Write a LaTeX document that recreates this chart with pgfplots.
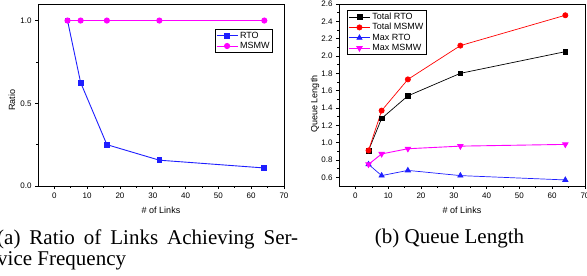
\documentclass[border=0pt]{standalone}
\usepackage{fontspec}
\setmainfont{Liberation Serif}
\newfontfamily\arial{Liberation Sans}
\usepackage{pgfplots}
\pgfplotsset{compat=1.18}
\definecolor{mag}{RGB}{255,0,255}
\definecolor{blu}{RGB}{30,30,255}
\begin{document}
\begin{tikzpicture}
\path[use as bounding box] (0pt,0pt) rectangle (587pt,-276pt);
\pgfplotsset{
  every axis/.append style={
    scale only axis,
    axis line style={line width=0.8pt},
    every tick/.style={black, line width=0.6pt},
    major tick length=3pt, minor tick length=1.8pt,
    xtick pos=bottom, ytick pos=left,
    tick align=outside,
    /pgf/number format/assume math mode=true,
    tick label style={font=\arial\fontsize{8}{9}\selectfont},
    legend style={font=\arial\fontsize{9}{10}\selectfont, draw=black, line width=0.8pt,
      inner xsep=1pt, inner ysep=0.5pt, row sep=-1.5pt},
    legend cell align=left,
    legend image code/.code={\draw[mark repeat=2,mark phase=2] plot coordinates {(0pt,0pt)(10.5pt,0pt)(21pt,0pt)};},
    mark size=2.6pt,
  }
}
% ---------- left ----------
\begin{axis}[
  at={(38pt,-4pt)}, anchor=north west, width=246pt, height=182pt,
  xmin=-5, xmax=70, ymin=0, ymax=1.1,
  xtick={0,10,...,70}, minor x tick num=1,
  ytick={0,0.5,1}, minor y tick num=1,
  yticklabel style={/pgf/number format/.cd, fixed, fixed zerofill, precision=1},
  legend style={at={(0.955,0.863)}, anchor=north east},
]
\addplot[blu, line width=0.9pt, mark=square*, mark size=2.4pt, mark options={solid}] coordinates {(4,1.0) (8,0.625) (16,0.25) (32,0.156) (64,0.109)};
\addlegendentry{RTO}
\addplot[mag, line width=0.9pt, mark=*, mark size=2.6pt] coordinates {(4,1) (8,1) (16,1) (32,1) (64,1)};
\addlegendentry{MSMW}
\end{axis}
% ---------- right ----------
\begin{axis}[
  at={(339pt,-4pt)}, anchor=north west, width=246pt, height=182pt,
  xmin=-5, xmax=70, ymin=0.5, ymax=2.6,
  xtick={0,10,...,70}, minor x tick num=1,
  ytick={0.6,0.8,...,2.61}, minor y tick num=1,
  yticklabel style={/pgf/number format/.cd, fixed, fixed zerofill, precision=1},
  legend style={at={(0.033,0.967)}, anchor=north west},
]
\addplot[black, line width=0.7pt, mark=square*, mark size=2.4pt] coordinates {(4,0.91) (8,1.28) (16,1.54) (32,1.80) (64,2.05)};
\addlegendentry{Total RTO}
\addplot[red, line width=0.7pt, mark=*, mark size=2.6pt] coordinates {(4,0.91) (8,1.37) (16,1.73) (32,2.12) (64,2.47)};
\addlegendentry{Total MSMW}
\addplot[blu, line width=0.7pt, mark=triangle*, mark size=3pt] coordinates {(4,0.75) (8,0.62) (16,0.68) (32,0.62) (64,0.57)};
\addlegendentry{Max RTO}
\addplot[mag, line width=0.9pt, mark=triangle*, mark size=3pt, mark options={rotate=180}] coordinates {(4,0.75) (8,0.87) (16,0.93) (32,0.96) (64,0.98)};
\addlegendentry{Max MSMW}
\end{axis}
% ---------- labels ----------
\node[rotate=90, font=\arial\fontsize{9}{10}\selectfont] at (12pt,-100pt) {Ratio};
\node[rotate=90, font=\arial\fontsize{9}{10}\selectfont] at (315pt,-104pt) {Queue Length};
\node[font=\arial\fontsize{9}{10}\selectfont] at (161pt,-210pt) {\# of Links};
\node[font=\arial\fontsize{9}{10}\selectfont] at (462pt,-210pt) {\# of Links};
% ---------- captions ----------
\node[anchor=base west, inner sep=0pt, font=\fontsize{21}{21}\selectfont] at (-3pt,-244pt) {\makebox[301pt][s]{(a) Ratio of Links Achieving Ser-}};
\node[anchor=base west, inner sep=0pt, font=\fontsize{21}{21}\selectfont] at (-3pt,-265pt) {vice Frequency};
\node[anchor=base, inner sep=0pt, font=\fontsize{21}{21}\selectfont] at (449.5pt,-243pt) {(b) Queue Length};
\end{tikzpicture}
\end{document}
